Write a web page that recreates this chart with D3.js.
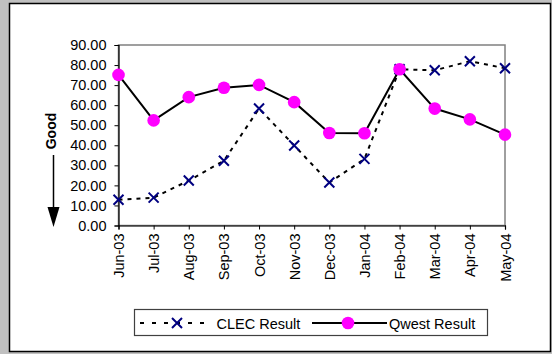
<!DOCTYPE html>
<html><head><meta charset="utf-8">
<script src="https://cdn.jsdelivr.net/npm/d3@7"></script>
<style>
html,body{margin:0;padding:0;background:#c0c0c0;}
svg{display:block;font-family:"Liberation Sans",Arial,sans-serif;}
</style></head>
<body>
<svg id="chart" width="552" height="354"></svg>
<script>
const months = ["Jun-03","Jul-03","Aug-03","Sep-03","Oct-03","Nov-03","Dec-03","Jan-04","Feb-04","Mar-04","Apr-04","May-04"];
const clecValues = [12.8, 13.9, 22.4, 32.3, 58.3, 39.9, 21.4, 33.2, 77.9, 77.4, 81.9, 78.4];
const qwestValues = [75.1, 52.4, 64.0, 68.7, 70.1, 61.5, 46.1, 46.0, 77.9, 58.3, 52.9, 45.3];
const yTicks = [0,10,20,30,40,50,60,70,80,90];
const seriesNames = ["CLEC Result","Qwest Result"];

const svg = d3.select("#chart");
// chart area
svg.append("rect").attr("x",9.5).attr("y",3.5).attr("width",541).attr("height",348)
  .attr("fill","#fff").attr("stroke","#000").attr("stroke-width",1.5);

const L=118.5, R=505, T=45, B=225.5;
const x = d3.scalePoint().domain(months).range([L,R]).padding(0);
const y = d3.scaleLinear().domain([0,90]).range([B,T]);

// plot border (top/right grey)
svg.append("rect").attr("x",L).attr("y",T).attr("width",R-L).attr("height",B-T)
  .attr("fill","#fff").attr("stroke","#808080").attr("stroke-width",1.5);

const yAxis = d3.axisLeft(y).tickValues(yTicks).tickFormat(d3.format(".2f")).tickSize(4).tickPadding(8);
const gy = svg.append("g").attr("transform",`translate(${L},0)`).call(yAxis);
gy.selectAll("text").attr("font-size","14.5px").attr("fill","#000").attr("font-family","Liberation Sans, Arial, sans-serif");
gy.select(".domain").attr("stroke","#000").attr("stroke-width",1.2);
gy.selectAll(".tick line").attr("stroke","#000");

const xAxis = d3.axisBottom(x).tickSize(4).tickPadding(6);
const gx = svg.append("g").attr("transform",`translate(0,${B})`).call(xAxis);
gx.select(".domain").attr("stroke","#000").attr("stroke-width",1.2);
gx.selectAll(".tick line").attr("stroke","#000");
gx.selectAll("text").attr("font-size","14.5px").attr("fill","#000").attr("font-family","Liberation Sans, Arial, sans-serif")
  .attr("transform","rotate(-90)").attr("text-anchor","end").attr("dy","0.35em").attr("x",-8).attr("y",0);

// lines
const line = d3.line().x((d,i)=>x(months[i])).y(d=>y(d));
svg.append("path").datum(clecValues).attr("d",line).attr("fill","none")
  .attr("stroke","#000").attr("stroke-width",2).attr("stroke-dasharray","4,5");
svg.append("path").datum(qwestValues).attr("d",line).attr("fill","none")
  .attr("stroke","#000").attr("stroke-width",2);

function xMark(g, cx, cy){
  const s=5;
  g.append("path").attr("d",`M${cx-s},${cy-s}L${cx+s},${cy+s}M${cx-s},${cy+s}L${cx+s},${cy-s}`)
   .attr("stroke","#000080").attr("stroke-width",2).attr("fill","none");
}
const gm = svg.append("g");
clecValues.forEach((v,i)=>xMark(gm, x(months[i]), y(v)));
svg.append("g").selectAll("circle").data(qwestValues).join("circle")
  .attr("cx",(d,i)=>x(months[i])).attr("cy",d=>y(d)).attr("r",6.3).attr("fill","#ff00ff");

// Good label + arrow
svg.append("text").attr("transform","translate(56,131) rotate(-90)").attr("text-anchor","middle")
  .attr("font-size","14px").attr("font-weight","bold").text("Good");
svg.append("line").attr("x1",53.5).attr("x2",53.5).attr("y1",155).attr("y2",210).attr("stroke","#000").attr("stroke-width",1.5);
svg.append("path").attr("d","M47.5,207L59.5,207L53.5,227Z").attr("fill","#000");

// legend
const lg = svg.append("g");
lg.append("rect").attr("x",134.5).attr("y",309.5).attr("width",353).attr("height",26)
  .attr("fill","#fff").attr("stroke","#404040").attr("stroke-width",1.2);
lg.append("line").attr("x1",140).attr("x2",212).attr("y1",323).attr("y2",323)
  .attr("stroke","#000").attr("stroke-width",2).attr("stroke-dasharray","4,8");
xMark(lg,177,323);
lg.append("text").attr("x",216.5).attr("y",328.5).attr("font-size","14.5px").text(seriesNames[0]);
lg.append("line").attr("x1",312).attr("x2",387).attr("y1",323).attr("y2",323)
  .attr("stroke","#000").attr("stroke-width",2);
lg.append("circle").attr("cx",348).attr("cy",323).attr("r",6.3).attr("fill","#ff00ff");
lg.append("text").attr("x",389).attr("y",328.5).attr("font-size","14.5px").text(seriesNames[1]);
</script>
</body></html>
